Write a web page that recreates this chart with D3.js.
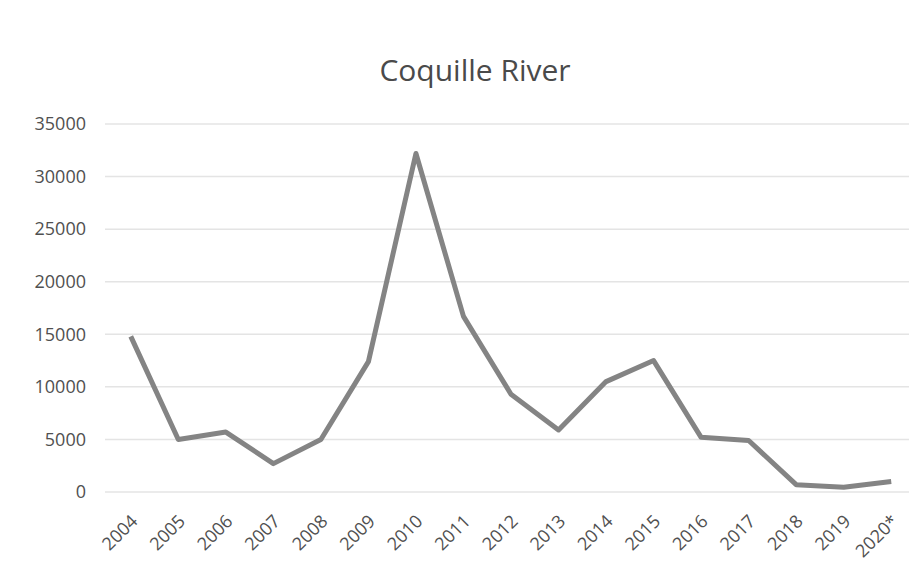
<!DOCTYPE html>
<html>
<head>
<meta charset="utf-8">
<script src="https://cdn.jsdelivr.net/npm/d3@7"></script>
<style>
  body { margin: 0; background: #fff; }
  text { font-family: "Open Sans", "Liberation Sans", sans-serif; }
</style>
</head>
<body>
<svg class="chart"></svg>
<script>
var years = ["2004", "2005", "2006", "2007", "2008", "2009", "2010", "2011", "2012",
             "2013", "2014", "2015", "2016", "2017", "2018", "2019", "2020*"];
var counts = [14800, 5000, 5700, 2700, 5000, 12400, 32200, 16700, 9300,
              5900, 10500, 12500, 5200, 4900, 700, 450, 1000];
var yTicks = [0, 5000, 10000, 15000, 20000, 25000, 30000, 35000];

var width = 909, height = 561;
var svg = d3.select(".chart").attr("width", width).attr("height", height);

var x = d3.scalePoint().domain(years).range([107, 915]).padding(0.5);
var y = d3.scaleLinear().domain([0, 35000]).range([492, 124]);

// title
svg.append("text")
   .attr("x", 475).attr("y", 81)
   .attr("text-anchor", "middle")
   .style("font-size", "30px")
   .style("fill", "#4a4a4a")
   .text("Coquille River");

// gridlines
svg.append("g").selectAll("line")
   .data(yTicks)
   .enter().append("line")
   .attr("x1", 105).attr("x2", 909)
   .attr("y1", function(d) { return y(d); })
   .attr("y2", function(d) { return y(d); })
   .style("stroke", "#e4e4e4")
   .style("stroke-width", 1.5);

// y axis labels
var yAxis = svg.append("g")
   .attr("transform", "translate(92,0)")
   .call(d3.axisLeft(y).tickValues(yTicks).tickSize(0).tickPadding(6).tickFormat(d3.format("d")));
yAxis.select(".domain").remove();
yAxis.selectAll("text")
   .style("font-size", "18px")
   .style("fill", "#505050");

// x axis labels
var xAxis = svg.append("g")
   .attr("transform", "translate(0,492)")
   .call(d3.axisBottom(x).tickSize(0));
xAxis.select(".domain").remove();
xAxis.selectAll("text")
   .style("font-size", "18px")
   .style("fill", "#505050")
   .attr("text-anchor", "end")
   .attr("transform", "translate(3,26) rotate(-45)")
   .attr("dy", "0.35em")
   .attr("y", 0);

// line
var valueLine = d3.line()
   .x(function(d, i) { return x(years[i]); })
   .y(function(d) { return y(d); });

svg.append("path")
   .datum(counts)
   .attr("d", valueLine)
   .style("fill", "none")
   .style("stroke", "#848484")
   .style("stroke-width", 5)
   .style("stroke-linejoin", "round");
</script>
</body>
</html>
